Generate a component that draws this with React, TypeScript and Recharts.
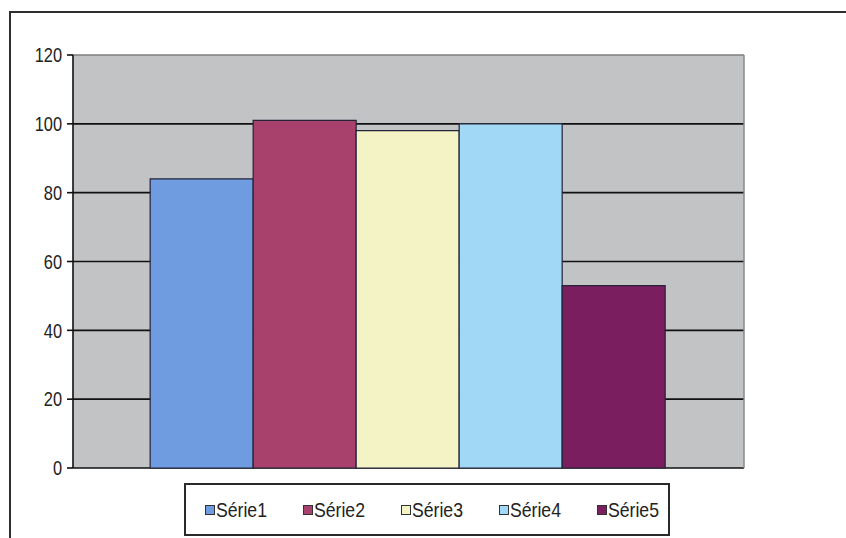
import React from "react";
import {
  BarChart,
  Bar,
  XAxis,
  YAxis,
  CartesianGrid,
  Legend,
  ReferenceLine,
} from "recharts";

const categories = [""];
const seriesNames = ["Série1", "Série2", "Série3", "Série4", "Série5"];
const seriesValues = [[84], [101], [98], [100], [53]];
const seriesColors = ["#6f9be0", "#a8416b", "#f4f3c6", "#a0d8f5", "#7b1e5f"];
const yTicks = [0, 20, 40, 60, 80, 100, 120];
const gridValues = [0, 20, 40, 60, 80, 100];

const data = categories.map((c, i) => {
  const row: Record<string, string | number> = { name: c };
  seriesNames.forEach((s, j) => {
    row[s] = seriesValues[j][i];
  });
  return row;
});

// no narrow font available, so squeeze Liberation Sans like Arial Narrow
const FONT = "'Liberation Sans', Arial, sans-serif";
const NARROW = 0.82;

function NarrowTick(props: any) {
  const { x, y, payload } = props;
  return (
    <g transform={`translate(${x},${y}) scale(${NARROW},1)`}>
      <text
        x={0}
        y={0}
        dy="0.36em"
        textAnchor="end"
        fill="#222"
        fontSize={20}
        fontFamily={FONT}
      >
        {payload.value}
      </text>
    </g>
  );
}

function LegendBox(props: any) {
  const payload = props.payload || [];
  return (
    <div
      style={{
        boxSizing: "border-box",
        width: 486,
        height: 53,
        border: "2px solid #2a2a2a",
        background: "#fff",
        display: "flex",
        alignItems: "center",
        paddingLeft: 19,
        fontFamily: FONT,
        fontSize: 21,
        color: "#222",
      }}
    >
      {payload.map((p: any) => (
        <div
          key={p.value}
          style={{ display: "flex", alignItems: "center", width: 98, flexShrink: 0 }}
        >
          <span
            style={{
              display: "inline-block",
              width: 8,
              height: 8,
              background: p.color,
              border: "1px solid #333",
              marginRight: 1,
            }}
          />
          <span
            style={{
              display: "inline-block",
              transform: "scaleX(0.84)",
              transformOrigin: "left center",
            }}
          >
            {p.value}
          </span>
        </div>
      ))}
    </div>
  );
}

export default function App() {
  return (
    <div
      style={{
        position: "fixed",
        left: 0,
        top: 0,
        width: 846,
        height: 538,
        background: "#fff",
        overflow: "hidden",
      }}
    >
      <div
        style={{
          position: "absolute",
          left: 9,
          top: 11,
          width: 900,
          height: 600,
          border: "2px solid #2e2e2e",
        }}
      />
      <div style={{ position: "absolute", left: 0, top: 0 }}>
        <BarChart
          width={846}
          height={538}
          data={data}
          margin={{ top: 55, right: 102, bottom: 17, left: 0 }}
          barCategoryGap="11.5%"
          barGap={0}
        >
          <CartesianGrid
            horizontalValues={gridValues}
            vertical={false}
            stroke="#111"
            strokeWidth={1.6}
            fill="#c2c3c5"
            fillOpacity={1}
          />
          <CartesianGrid
            horizontal={false}
            verticalCoordinatesGenerator={({ offset }: any) => [offset.left + offset.width]}
            stroke="#8a8a8a"
            strokeWidth={1.5}
          />
          <XAxis dataKey="name" tick={false} axisLine={false} tickLine={false} height={0} />
          <YAxis
            domain={[0, 120]}
            ticks={yTicks}
            width={73}
            interval={0}
            tickSize={6}
            tickMargin={5}
            axisLine={{ stroke: "#111", strokeWidth: 1.6 }}
            tickLine={{ stroke: "#111", strokeWidth: 1.6 }}
            tick={<NarrowTick />}
          />
          <ReferenceLine y={120} stroke="#7e7e7e" strokeWidth={1.5} />
          {seriesNames.map((s, j) => (
            <Bar
              key={s}
              dataKey={s}
              fill={seriesColors[j]}
              stroke="#23233a"
              strokeWidth={1.2}
              isAnimationActive={false}
            />
          ))}
          <Legend
            content={<LegendBox />}
            wrapperStyle={{ left: 184, top: 483, width: 486, height: 53 }}
          />
        </BarChart>
      </div>
    </div>
  );
}
